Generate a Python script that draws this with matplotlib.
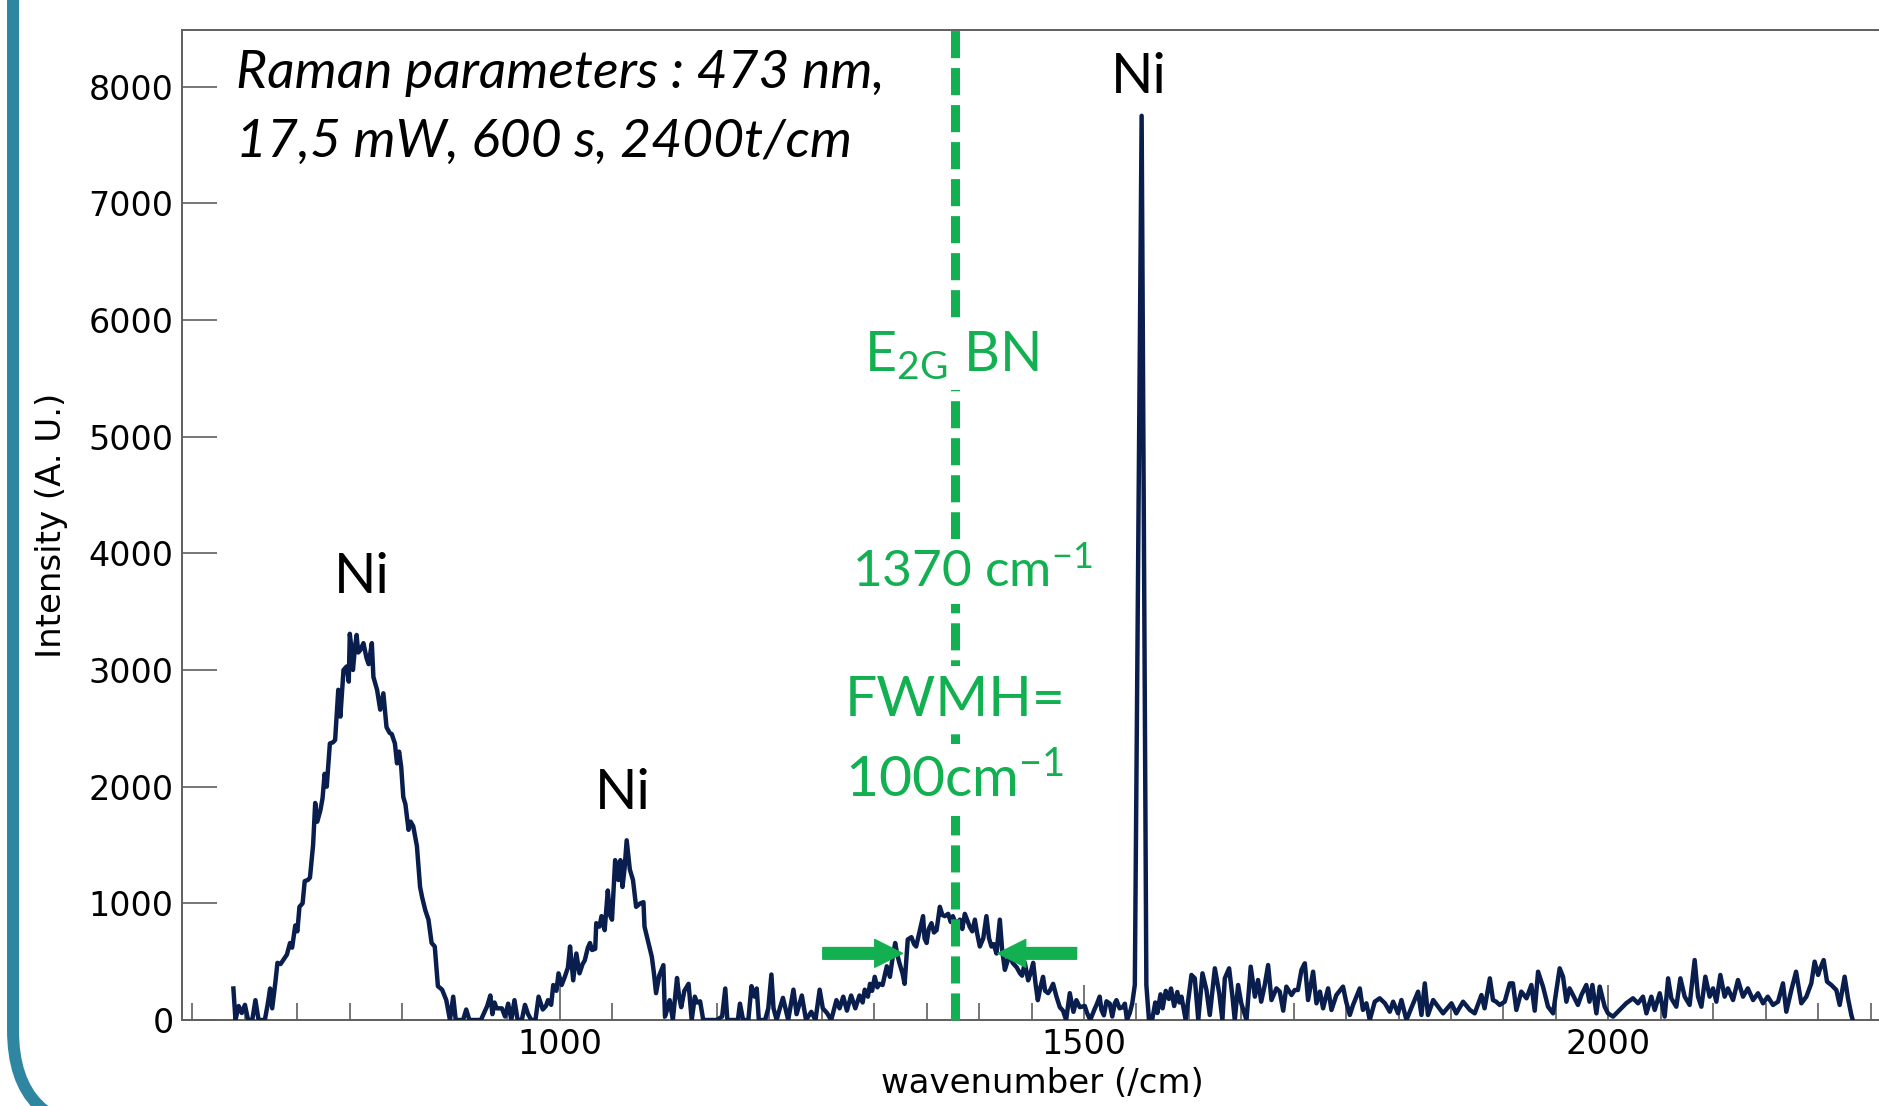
import numpy as np
import matplotlib
matplotlib.use('Agg')
import matplotlib.pyplot as plt
from matplotlib.patches import FancyBboxPatch, FancyArrowPatch
from matplotlib.transforms import IdentityTransform
from matplotlib.ticker import MultipleLocator

# ---------------- data ----------------
# first Ni band
wn_a = [689, 691, 694, 697, 700, 703, 707, 710, 713, 719, 722, 724, 726, 729, 731, 734, 737, 740, 743, 745,
        748, 750, 752, 755, 757, 760, 762, 765, 767, 769, 772, 774, 776, 778, 781, 784, 786, 789, 791, 794,
        797, 799, 800, 802, 803, 805, 806.5, 808, 810, 813, 816, 818, 821, 822.5, 826, 829, 832, 835, 838, 840,
        843, 845, 847, 849, 851, 853, 856, 858, 860.5, 864, 867, 869, 872, 875, 878, 881, 884, 888, 892, 895.5,
        898.6, 901, 908, 911, 914, 925, 928, 931, 934, 936, 938, 940]
int_a = [270, 0, 120, 60, 130, 0, 0, 170, 0, 0, 150, 270, 100, 320, 490, 480, 520, 560, 660, 620,
         810, 760, 970, 1000, 1190, 1200, 1220, 1500, 1860, 1700, 1800, 1900, 2110, 2000, 2370, 2380, 2400, 2830, 2600, 3000,
         3030, 2900, 3310, 3150, 3000, 3200, 3300, 3150, 3170, 3230, 3100, 3050, 3230, 2940, 2830, 2660, 2800, 2510, 2460, 2450,
         2370, 2200, 2300, 2170, 1910, 1850, 1630, 1700, 1660, 1490, 1140, 1050, 940, 860, 660, 630, 290, 260, 170, 0,
         200, 0, 0, 90, 0, 0, 60, 120, 210, 50, 150, 100]

# second Ni band
wn_b = [945, 948, 951, 954, 957, 960, 964, 967, 970, 973, 977, 980, 984, 987, 989, 992, 994, 997, 999, 1002,
        1005, 1008, 1010, 1013, 1016, 1019, 1022, 1024, 1027, 1029, 1031, 1034, 1035, 1038, 1040, 1043, 1046, 1048, 1050, 1053,
        1056, 1058, 1060, 1062, 1064, 1067, 1070, 1073, 1077, 1080, 1081, 1084, 1086, 1088, 1090, 1092, 1095, 1099, 1100.5, 1103,
        1105, 1108, 1112, 1114, 1116, 1119, 1123, 1126, 1129, 1131, 1134, 1137, 1150, 1155, 1158, 1160, 1170, 1172, 1175, 1180,
        1183, 1186, 1188, 1190, 1196, 1199, 1202, 1204, 1207, 1210, 1213]
int_b = [100, 30, 140, 0, 170, 0, 0, 130, 50, 0, 0, 200, 90, 120, 170, 130, 300, 250, 400, 300,
         370, 450, 630, 340, 570, 400, 480, 510, 620, 660, 600, 610, 830, 800, 890, 770, 1110, 900, 860, 1370,
         1200, 1370, 1140, 1300, 1540, 1290, 1200, 970, 1000, 1010, 800, 690, 620, 540, 400, 230, 380, 470, 30, 100,
         170, 0, 360, 200, 110, 250, 310, 0, 200, 150, 160, 0, 0, 30, 270, 0, 0, 140, 0, 0,
         290, 200, 270, 0, 0, 100, 390, 100, 0, 100, 190]

# E2G BN band
wn_c = [1218, 1223, 1226, 1231, 1235, 1240, 1244, 1248, 1251, 1255, 1259, 1264, 1267, 1270.5, 1274, 1278, 1282, 1286, 1289, 1291,
        1294, 1296, 1298, 1300.5, 1303, 1305, 1308, 1312, 1315, 1317, 1320, 1322, 1324, 1327, 1329, 1332, 1335.5, 1338, 1340, 1343.5,
        1346.6, 1348, 1350, 1352, 1354.6, 1357, 1359.5, 1362.6, 1365, 1367.4, 1370.5, 1373, 1375, 1378, 1381.7, 1384, 1386.4, 1389, 1391, 1393.5,
        1396, 1398, 1400.7, 1404, 1407, 1409.5, 1411.8, 1414, 1416.6, 1419.8, 1422, 1424.6, 1427, 1429, 1432, 1436, 1439, 1441, 1443.6, 1446.8,
        1449, 1451.6, 1454, 1456, 1458.5, 1461, 1463, 1465.8, 1468, 1470.6, 1473.8, 1477, 1480, 1483, 1486.5, 1490, 1492.8, 1496, 1500.8, 1503,
        1506, 1510, 1512, 1515, 1516.7, 1519, 1521.5, 1524.6, 1527, 1529.4, 1531, 1534, 1537, 1539, 1541, 1543.7, 1546]
int_c = [0, 260, 50, 210, 0, 70, 0, 260, 100, 60, 0, 170, 100, 200, 80, 210, 100, 210, 150, 260,
         200, 310, 250, 370, 280, 310, 300, 460, 370, 500, 660, 560, 490, 400, 310, 690, 710, 650, 630, 770,
         890, 700, 660, 780, 830, 750, 770, 970, 900, 890, 910, 840, 890, 820, 860, 780, 910, 850, 800, 760,
         860, 750, 630, 700, 890, 700, 630, 650, 570, 860, 600, 430, 500, 570, 490, 450, 400, 380, 490, 340,
         400, 490, 300, 170, 280, 370, 250, 230, 260, 310, 200, 110, 80, 0, 230, 70, 170, 110, 120, 60,
         0, 90, 130, 200, 86, 40, 160, 140, 30, 143, 170, 100, 110, 140, 0, 60, 140]

# sharp Ni line
wn_d = [1548.5, 1555, 1559.5, 1562, 1565, 1568, 1570, 1573, 1575, 1578, 1581, 1583, 1586, 1589, 1591]
int_d = [300, 7750, 300, 0, 0, 150, 60, 220, 100, 250, 180, 270, 120, 240, 150]

# background noise, 1590-1920
wn_e = [1593, 1597, 1602.5, 1605.7, 1609, 1613, 1616.8, 1620, 1624.8, 1629, 1632, 1634.3, 1638.4, 1641.6, 1643.8, 1647, 1650, 1655, 1659, 1663,
        1666, 1669, 1672.4, 1675.6, 1678.8, 1683.5, 1686.7, 1690, 1693, 1697.9, 1701, 1704, 1707.4, 1710.6, 1713.7, 1718.5, 1721.7, 1725, 1728, 1732.8,
        1736, 1740.7, 1747, 1750, 1753.5, 1756.6, 1763, 1766, 1769.3, 1772.5, 1777.3, 1782, 1787, 1791.6, 1794.8, 1799.5, 1802.7, 1807.5, 1812, 1818.6,
        1821.8, 1825, 1828, 1833, 1837.7, 1842.4, 1850.4, 1855, 1861.5, 1868, 1872.6, 1879, 1882, 1887, 1890, 1893, 1896.4, 1901.2, 1906, 1909,
        1912.3, 1917]
int_e = [200, 0, 386, 357, 0, 400, 257, 43, 443, 229, 0, 357, 443, 200, 0, 300, 143, 0, 457, 200,
         343, 157, 300, 471, 171, 271, 243, 80, 286, 214, 257, 257, 429, 486, 171, 414, 143, 243, 100, 271,
         86, 214, 286, 157, 43, 129, 271, 86, 143, 0, 157, 186, 143, 71, 157, 57, 171, 0, 100, 243,
         43, 314, 43, 171, 114, 57, 143, 57, 157, 86, 57, 214, 100, 357, 171, 157, 129, 157, 314, 314,
         86, 243]

# background noise, 1920-2235
wn_f = [1922, 1926.6, 1929.8, 1933, 1937.7, 1942.5, 1947.3, 1950.5, 1953.6, 1956.8, 1960, 1963, 1966.3, 1971, 1974.3, 1979, 1982, 1984.8, 1988.6, 1991.8,
        1996.5, 1999.7, 2004.5, 2010.8, 2017, 2023.5, 2028.3, 2033, 2036.3, 2041, 2044.2, 2049, 2053.7, 2057, 2060, 2064.8, 2068.7, 2072.8, 2077.5, 2082.3,
        2085.5, 2088.7, 2092.5, 2096.6, 2099.8, 2103, 2106.8, 2110.9, 2114, 2118.9, 2123.6, 2128.4, 2133, 2138, 2142.7, 2147.5, 2152, 2157, 2161.8, 2166.5,
        2169.7, 2174.5, 2179, 2184, 2188.8, 2193.5, 2196.7, 2200, 2201.5, 2205.3, 2208.5, 2212.6, 2217.4, 2220.6, 2225.3, 2228.5, 2231.7, 2233]
int_f = [186, 300, 80, 414, 286, 114, 57, 257, 443, 371, 157, 271, 214, 129, 214, 300, 157, 300, 57, 286,
         114, 57, 29, 86, 143, 186, 143, 200, 57, 200, 86, 229, 29, 357, 186, 114, 357, 200, 129, 514,
         200, 114, 371, 200, 271, 157, 386, 200, 271, 171, 343, 200, 271, 171, 229, 143, 200, 129, 157, 314,
         71, 257, 414, 143, 200, 314, 500, 386, 429, 514, 329, 300, 257, 129, 371, 186, 43, 0]

# annotation values
bn_position = 1377          # green dashed line
ni_labels_x = [811, 1060, 1552]
ni_labels_y = [3660, 1808, 7946]
fwhm_left = (1251, 1327)    # tail, tip of left arrow
fwhm_right = (1493, 1418)   # tail, tip of right arrow
fwhm_level = 571

wavenumber = np.array(wn_a + wn_b + wn_c + wn_d + wn_e + wn_f, dtype=float)
intensity = np.array(int_a + int_b + int_c + int_d + int_e + int_f, dtype=float)

# ---------------- figure ----------------
W, H, DPI = 1879, 1106, 100
NAVY = '#0a1e4e'
GREEN = '#12B050'
GREY = '#5f5f5f'
FRAME = '#2F86A0'

fig = plt.figure(figsize=(W / DPI, H / DPI), dpi=DPI)
fig.patch.set_facecolor('white')

ax = fig.add_axes([182 / W, (H - 1020) / H, (1902 - 182) / W, 990 / H])
ax.plot(wavenumber, intensity, color=NAVY, lw=3.2, zorder=3)
ax.set_xlim(640, 2280)
ax.set_ylim(0, 8485)

ax.xaxis.set_major_locator(MultipleLocator(500))
ax.xaxis.set_minor_locator(MultipleLocator(50))
ax.yaxis.set_major_locator(MultipleLocator(1000))
ax.tick_params(axis='both', which='major', direction='in', length=25, width=1.2,
               color=GREY, labelsize=24, pad=6, top=False, right=False)
ax.tick_params(axis='x', which='minor', direction='in', length=12, width=1.2,
               color=GREY, top=False)
for s in ax.spines.values():
    s.set_color(GREY)
    s.set_linewidth(1.4)

ax.set_ylabel('Intensity (A. U.)', fontsize=24.5)
ax.yaxis.set_label_coords(-0.066, 0.5)
ax.set_xlabel('wavenumber (/cm)', fontsize=24.5)
ax.xaxis.set_label_coords(0.5, -0.0475)

# parameters text
ax.text(0.0314, 0.9414, 'Raman parameters : 473 nm,', transform=ax.transAxes,
        fontsize=38.5, family='Lato', style='italic', ha='left', va='baseline')
ax.text(0.0314, 0.8717, '17,5 mW, 600 s, 2400t/cm', transform=ax.transAxes,
        fontsize=38.5, family='Lato', style='italic', ha='left', va='baseline')

# Ni labels
for xx, yy in zip(ni_labels_x, ni_labels_y):
    ax.text(xx, yy, 'Ni', fontsize=40, family='Lato', ha='center', va='baseline', zorder=6)

# green dashed line
ax.plot([bn_position, bn_position], [0, 8537], color=GREEN, lw=6.5,
        linestyle=(0, (3.0, 1.1)), clip_on=False, zorder=4, solid_capstyle='butt')

box = dict(facecolor='white', edgecolor='none', pad=6)
ax.text(bn_position - 4, 5563, r'E$\mathregular{_{2G}}$ BN', color=GREEN, fontsize=40, family='Lato',
        ha='center', va='baseline', bbox=box, zorder=6)
ax.text(bn_position + 17, 3711, r'1370 cm$\mathregular{^{-1}}$', color=GREEN, fontsize=37, family='Lato',
        ha='center', va='baseline', bbox=box, zorder=6)
ax.text(bn_position, 2606, 'FWMH=', color=GREEN, fontsize=41, family='Lato',
        ha='center', va='baseline', bbox=box, zorder=6)
ax.text(bn_position, 1911, r'100cm$\mathregular{^{-1}}$', color=GREEN, fontsize=41, family='Lato',
        ha='center', va='baseline', bbox=box, zorder=6)

# FWHM arrows
for tail, tip in (fwhm_left, fwhm_right):
    arr = FancyArrowPatch((tail, fwhm_level), (tip, fwhm_level),
                          arrowstyle='simple,head_length=1.0,head_width=1.0,tail_width=0.42',
                          mutation_scale=20, color=GREEN, shrinkA=0, shrinkB=0, zorder=5)
    ax.add_patch(arr)

# rounded blue frame
frame = FancyBboxPatch((13, -24), 2400, 1500, boxstyle='round,pad=0,rounding_size=100',
                       transform=IdentityTransform(), fill=False, edgecolor=FRAME, lw=8.6)
fig.add_artist(frame)

fig.savefig('out.png', dpi=DPI, facecolor='white')
